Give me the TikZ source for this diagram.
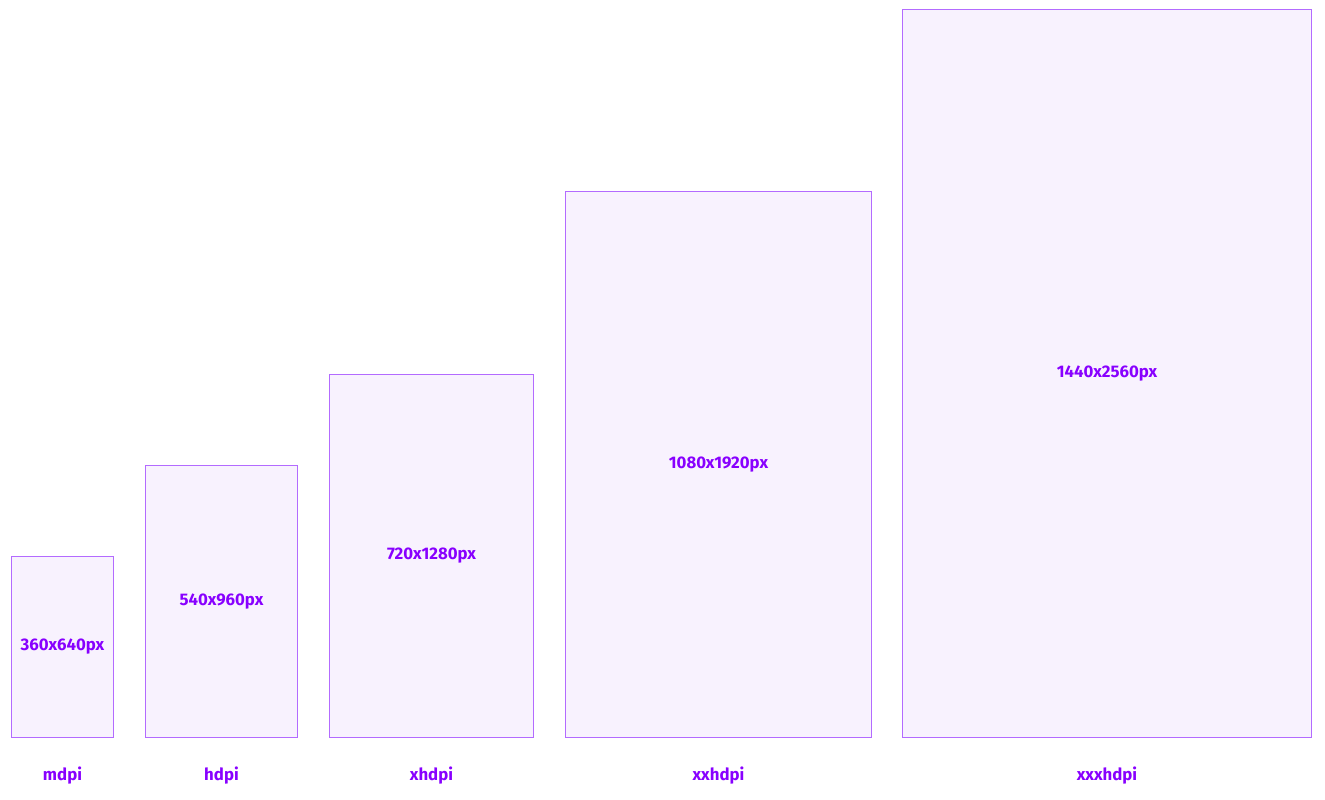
\documentclass[tikz,border=0pt]{standalone}
\usepackage{fontspec}
\setmainfont{Fira Sans}
\usepackage{tikz}
\usetikzlibrary{positioning}
\definecolor{screenline}{HTML}{B36BFF}
\definecolor{screenfill}{HTML}{F8F2FE}
\definecolor{screentext}{HTML}{8800FF}

\begin{document}
\begin{tikzpicture}[
        x=1pt, y=1pt,
        screen/.style={
            rectangle,
            draw=screenline,
            fill=screenfill,
            line width=1pt,
            anchor=south west,
            inner sep=0pt,
            text=screentext,
            font=\fontsize{16.8}{20}\selectfont\bfseries
        },
        tag/.style={
            inner sep=0pt,
            text height=12pt,
            text depth=3pt,
            text=screentext,
            font=\fontsize{16.8}{20}\selectfont\bfseries
        }
    ]

        \useasboundingbox (0,0) rectangle (1325,800);

        \node[screen, minimum width=102pt, minimum height=181pt] (mdpi) at (11,62) {360x640px};
        \node[screen, minimum width=152pt, minimum height=272pt] (hdpi) at (145,62) {540x960px};
        \node[screen, minimum width=204pt, minimum height=363pt] (xhdpi) at (329,62) {720x1280px};
        \node[screen, minimum width=306pt, minimum height=546pt] (xxhdpi) at (565,62) {1080x1920px};
        \node[screen, minimum width=409pt, minimum height=728pt] (xxxhdpi) at (902,62) {1440x2560px};

        \node[tag, below=30pt of mdpi] (mdpi-tag) {mdpi};
        \node[tag, below=30pt of hdpi] (hdpi-tag) {hdpi};
        \node[tag, below=30pt of xhdpi] (xhdpi-tag) {xhdpi};
        \node[tag, below=30pt of xxhdpi] (xxhdpi-tag) {xxhdpi};
        \node[tag, below=30pt of xxxhdpi] (xxxhdpi-tag) {xxxhdpi};

    \end{tikzpicture}
\end{document}
